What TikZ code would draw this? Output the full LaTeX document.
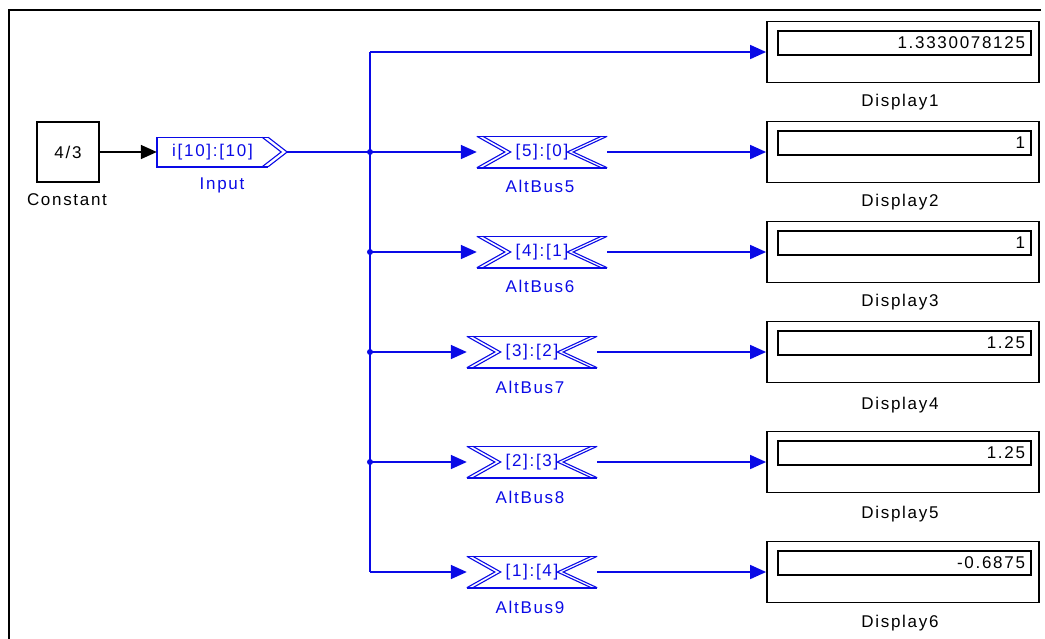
\documentclass[tikz,border=0pt]{standalone}
\usepackage{fontspec}
\setmainfont{Liberation Sans}[LetterSpace=10]
\usetikzlibrary{arrows.meta,calc}
\definecolor{sblue}{RGB}{10,10,230}
\newcommand\altbusdraw[1]{%
  \draw[sblue, line width=1.6pt] (#1.north west) -- (#1.north east) (#1.south west) -- (#1.south east);
  \draw[sblue, line width=1.1pt]
    (#1.north west) -- ($(#1.west)+(28,0)$) -- (#1.south west)
    ($(#1.north west)+(6,0)$) -- ($(#1.west)+(34,0)$) -- ($(#1.south west)+(6,0)$)
    (#1.north east) -- ($(#1.east)+(-34,0)$) -- (#1.south east)
    ($(#1.north east)+(-6,0)$) -- ($(#1.east)+(-40,0)$) -- ($(#1.south east)+(-6,0)$);}
\begin{document}
\begin{tikzpicture}[x=1pt,y=-1pt,
  font=\fontsize{17}{19}\selectfont,
  wire/.style={sblue, line width=1.6pt},
  blk/.style={draw=black, line width=1.8pt},
  arr/.style={-{Triangle[length=16pt,width=14pt]}},
  bus/.style={minimum width=130pt, minimum height=31pt, inner sep=0pt, text=sblue},
  buslbl/.style={text=sblue, inner sep=0pt},
  dispo/.style={draw=black, line width=1.8pt, minimum width=272pt, minimum height=61pt, inner sep=0pt},
  dispi/.style={draw=black, line width=1.5pt, minimum height=24pt, text width=241pt, align=right, inner xsep=6pt, inner ysep=0pt},
  dlbl/.style={inner sep=0pt}]
\useasboundingbox (0,0) rectangle (1045,638);
% frame
\draw[line width=2.4pt] (9,640) -- (9,10) -- (1041,10);

% constant
\node[blk, minimum width=62pt, minimum height=60pt, inner sep=0pt] (const) at (68,152) {4/3};
\node[inner sep=0pt] (constl) at (67,200) {Constant};

% input
\node[minimum width=111pt, minimum height=29pt, inner sep=0pt, text=sblue] (inp) at (212.5,152) {i[10]:[10]};
\draw[sblue, line width=1.6pt] (inp.north east) -- (inp.north west) -- (inp.south west) -- (inp.south east);
\draw[sblue, line width=1.1pt]
  ($(inp.north east)+(-6,0)$) -- ($(inp.east)+(13,0)$) -- ($(inp.south east)+(-6,0)$)
  (inp.north east) -- ($(inp.east)+(19,0)$) -- (inp.south east);
\coordinate (inptip) at ($(inp.east)+(19,0)$);
\node[buslbl] (inpl) at (222,185) {Input};
\draw[black, line width=1.6pt, arr] (const.east) -- (inp.west);

% bus junctions
\coordinate (j0) at (370,52);
\coordinate (j1) at (370,152);
\coordinate (j2) at (370,252);
\coordinate (j3) at (370,352);
\coordinate (j4) at (370,462);
\coordinate (j5) at (370,572);

% altbus blocks
\node[bus] (ab5) at (542,152) {[5]:[0]\hspace{6pt}};
\node[bus] (ab6) at (542,252) {[4]:[1]\hspace{6pt}};
\node[bus] (ab7) at (532,352) {[3]:[2]\hspace{8pt}};
\node[bus] (ab8) at (532,462) {[2]:[3]\hspace{8pt}};
\node[bus] (ab9) at (532,572) {[1]:[4]\hspace{8pt}};
\altbusdraw{ab5}\altbusdraw{ab6}\altbusdraw{ab7}\altbusdraw{ab8}\altbusdraw{ab9}
\node[buslbl] (ab5l) at (540,186) {AltBus5};
\node[buslbl] (ab6l) at (540,286) {AltBus6};
\node[buslbl] (ab7l) at (530,387) {AltBus7};
\node[buslbl] (ab8l) at (530,497) {AltBus8};
\node[buslbl] (ab9l) at (530,607) {AltBus9};

% displays
\node[dispo] (d1) at (903,52) {};
\node[dispo] (d2) at (903,152) {};
\node[dispo] (d3) at (903,252) {};
\node[dispo] (d4) at (903,352) {};
\node[dispo] (d5) at (903,462) {};
\node[dispo] (d6) at (903,572) {};
\node[dispi] (d1v) at (904.5,43) {1.3330078125};
\node[dispi] (d2v) at (904.5,143) {1};
\node[dispi] (d3v) at (904.5,243) {1};
\node[dispi] (d4v) at (904.5,343) {1.25};
\node[dispi] (d5v) at (904.5,453) {1.25};
\node[dispi] (d6v) at (904.5,563) {-0.6875};
\node[dlbl] (d1l) at (900,102) {Display1};
\node[dlbl] (d2l) at (900,202) {Display2};
\node[dlbl] (d3l) at (900,302) {Display3};
\node[dlbl] (d4l) at (900,405) {Display4};
\node[dlbl] (d5l) at (900,514) {Display5};
\node[dlbl] (d6l) at (900,623) {Display6};

% wires
\draw[wire] (inptip) -- (j1);
\draw[wire] (j0) -- (j5);
\draw[wire, arr] (j0) -- (d1.west);
\draw[wire, arr] (j1) -- (ab5.west);
\draw[wire, arr] (j2) -- (ab6.west);
\draw[wire, arr] (j3) -- (ab7.west);
\draw[wire, arr] (j4) -- (ab8.west);
\draw[wire, arr] (j5) -- (ab9.west);
\draw[wire, arr] (ab5.east) -- (d2.west);
\draw[wire, arr] (ab6.east) -- (d3.west);
\draw[wire, arr] (ab7.east) -- (d4.west);
\draw[wire, arr] (ab8.east) -- (d5.west);
\draw[wire, arr] (ab9.east) -- (d6.west);
\foreach \j in {j1,j2,j3,j4} \fill[sblue] (\j) circle (3pt);
\end{tikzpicture}
\end{document}
